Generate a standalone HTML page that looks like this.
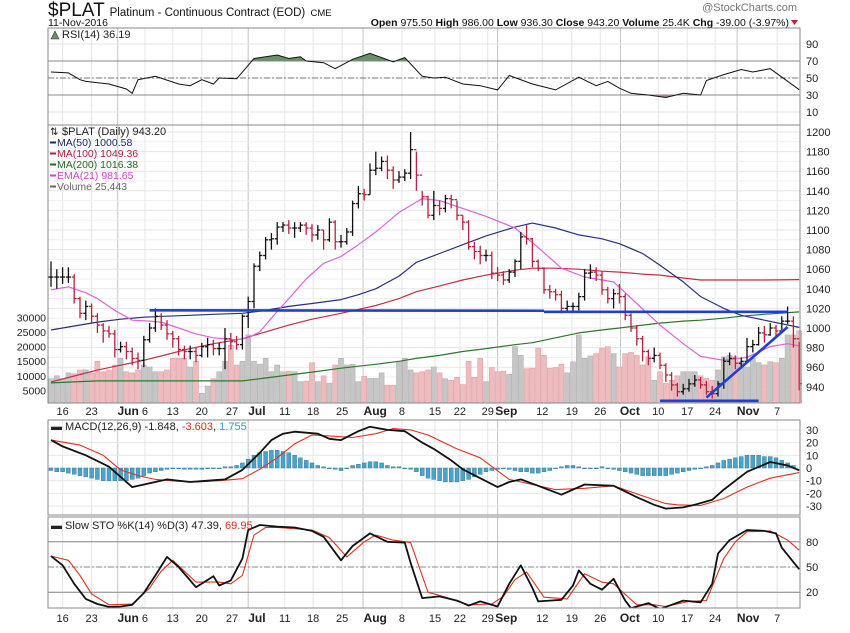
<!DOCTYPE html>
<html><head><meta charset="utf-8"><style>
body{margin:0;background:#fff;}
svg{display:block;font-family:"Liberation Sans",sans-serif;}
</style></head><body>
<svg id="c" width="850" height="633" viewBox="0 0 850 633" xmlns="http://www.w3.org/2000/svg">
<rect x="0" y="0" width="850" height="633" fill="#fff"/>
<text x="48" y="16" font-size="19" fill="#111">$PLAT <tspan font-size="11.5">Platinum - Continuous Contract (EOD)</tspan> <tspan font-size="9.5">CME</tspan></text>
<text x="797" y="11" font-size="11" fill="#777" text-anchor="end">@StockCharts.com</text>
<text x="48" y="26" font-size="10.5" fill="#111">11-Nov-2016</text>
<text x="789" y="26" font-size="10.5" fill="#111" text-anchor="end"><tspan font-weight="bold">Open</tspan> 975.50 <tspan font-weight="bold">High</tspan> 986.00 <tspan font-weight="bold">Low</tspan> 936.30 <tspan font-weight="bold">Close</tspan> 943.20 <tspan font-weight="bold">Volume</tspan> 25.4K <tspan font-weight="bold">Chg</tspan> -39.00 (-3.97%)</text>
<path d="M791,20 L798,20 L794.5,25 Z" fill="#c0203a"/>
<g id="g"></g>
</svg>
<script>
// ---- data ----
const closes=[1052,1052,1052,1052,1030,1015,1022,1012,1003,997,994,978,981,976,969,967,988,1000,1012,1003,994,989,978,976,976,972,981,983,979,979,989,986,983,1012,1027,1063,1074,1090,1091,1103,1105,1102,1102,1105,1102,1095,1100,1090,1108,1088,1088,1098,1127,1137,1136,1161,1163,1170,1161,1151,1154,1158,1182,1156,1134,1115,1125,1122,1132,1131,1115,1108,1083,1078,1074,1074,1056,1054,1049,1057,1068,1093,1091,1068,1061,1039,1037,1034,1020,1022,1022,1032,1056,1057,1054,1039,1030,1035,1032,1013,1000,989,976,969,972,962,952,942,935,938,943,947,942,935,933,943,966,969,964,966,981,983,995,993,1000,997,1007,1007,989,943.2];
const highs=[1068,1060,1062,1062,1055,1032,1028,1025,1015,1005,1002,998,986,986,980,975,992,1005,1020,1015,1008,997,992,982,982,980,985,990,988,985,1000,995,992,1014,1032,1066,1078,1093,1097,1108,1108,1110,1108,1108,1108,1106,1105,1100,1112,1110,1095,1102,1130,1145,1142,1168,1180,1175,1176,1165,1160,1162,1200,1180,1140,1135,1140,1130,1136,1136,1130,1115,1110,1088,1084,1080,1078,1062,1058,1060,1070,1098,1105,1092,1070,1062,1044,1040,1038,1028,1026,1036,1060,1065,1062,1058,1042,1040,1045,1035,1015,1003,992,978,980,975,964,955,944,943,948,952,950,946,941,946,970,975,972,970,990,988,1001,1002,1005,1003,1012,1022,1012,986];
const lows=[1042,1040,1045,1046,1025,1010,1008,1004,995,985,990,970,975,968,962,958,960,985,996,998,988,980,972,968,968,965,970,970,972,972,958,978,978,978,1000,1020,1058,1070,1080,1085,1098,1096,1092,1098,1095,1088,1090,1080,1088,1080,1082,1085,1094,1122,1130,1136,1156,1160,1152,1142,1148,1150,1152,1140,1125,1112,1110,1115,1118,1122,1110,1100,1080,1070,1065,1068,1050,1048,1044,1046,1052,1060,1085,1062,1058,1035,1030,1028,1015,1016,1016,1018,1028,1050,1048,1034,1025,1020,1025,1008,996,982,966,962,965,958,945,936,930,932,935,940,938,932,928,930,938,962,958,960,964,975,982,985,992,990,998,1004,980,936.3];
const volumeK=[9,10,9,11,10.7,12,12,11,15,11.4,12,13.7,16,11.4,11,12,13.7,13,11.4,11.4,12,16,16,16,13,15,4,6.5,9,11.4,15,20.5,13.7,15,24,15,14,16,11.4,13.7,11.4,11.6,11.4,8,8.2,14.5,8,10,7.5,13.7,16,13.7,14,8,9.8,9.1,9.1,11,6.8,6.8,15,16,12,11,11.4,12,13,11,9,8.5,9.5,7,15,9.5,16,8,12.8,11.4,11.6,10.5,20,17,12.4,12.6,19.5,17,12.6,12.8,14,11,14.8,24,16,16.8,17.6,19.5,20,17.6,13,17.6,18,17,13.7,16.5,8.5,11.4,7.4,8.5,10,11.4,11.4,11.4,10,9.1,8.5,12,16.5,17,16.5,14.8,13,16,14.5,13.7,14.8,14.5,16,24,24,25.4];
const maIdx=[0,4,8,12,16,20,24,28,33,37,41,45,50,53,56,60,63,67,71,75,80,83,87,91,95,98,102,105,109,112,116,119,123,129];
const ma50=[998,1002,1006,1009,1011,1012,1013,1014,1015,1018,1022,1025,1029,1034,1040,1053,1067,1076,1085,1094,1103,1107,1102,1095,1091,1086,1076,1064,1047,1032,1020,1013,1008,1000.6];
const ma100=[945,951,957,962,967,973,979,984,989,996,1003,1009,1015,1019,1023,1030,1037,1043,1049,1054,1059,1061,1061,1060,1058,1057,1055,1054,1051,1049,1049,1049,1049,1049.4];
const ma200=[944,945,946,946,946,946,946,946,946,949,952,955,959,961,963,966,969,972,976,979,983,985,990,995,998,1000,1003,1005,1007,1008,1010,1012,1014,1016.4];
const emaIdx=[0,3,6,8,11,14,17,19,22,25,28,32,34,36,38,41,44,47,50,53,56,60,64,67,71,75,80,84,88,92,97,101,105,109,112,116,120,124,127,129];
const ema21=[1039,1042,1036,1030,1018,1008,1007,1006,1000,994,990,988,990,996,1010,1030,1050,1066,1073,1085,1098,1118,1132,1130,1122,1114,1102,1082,1061,1052,1047,1025,1003,984,971,967,970,981,984,981.7];
const rsiIdx=[0,3,5,6,10,13,14,15,18,22,24,26,28,29,32,34,35,39,41,43,44,47,49,52,55,57,59,61,64,66,68,71,74,77,79,83,87,91,94,96,98,100,103,106,109,112,113,116,119,121,124,129];
const rsiVal=[57,56,48,46,43,37,32,48,52,43,41,48,43,50,49,65,73,77,73,75,70,68,61,72,79,74,69,74,52,50,51,43,41,36,53,43,36,51,41,46,38,32,30,27,32,30,47,54,60,57,61,36.2];
const macdIdx=[0,2,6,10,14,17,20,24,27,30,33,36,38,40,42,46,48,50,53,55,58,61,64,66,69,71,74,77,79,81,84,88,92,97,101,104,106,109,111,114,116,120,124,127,129];
const macdVal=[22,17,10,1,-15,-12,-9,-11,-10,-9,-1.5,12,22,27,28.6,27,23,22,29,32.5,30,29,20,15,6,-1,-8,-15,-11,-9,-14,-21,-13,-14,-23,-29,-32,-31,-29,-25,-17,-3,4.7,2,-1.8];
const sigIdx=[0,5,9,12,15,18,22,25,29,33,36,39,42,45,49,52,56,59,62,65,70,74,79,83,87,92,97,102,106,108,112,116,120,124,129];
const sigVal=[22,18,10,-1.5,-6,-9,-10.5,-11,-10,-8.4,-1,8,19,26,25,24,27,31,30,26,15,8,-9,-13,-17,-16,-14,-22,-28,-29,-29.5,-24,-15,-8,-3.6];
const histVal=[-2,-3,-3,-4,-5,-6,-7,-8,-9,-10,-10,-10,-10,-10,-9,-8,-6,-4,-3,-2,-1,0,0,-1,-1,-1,-1,0,0,0,1,1,2,4,7,10,12,13,14,14,13,12,10,8,6,4,2,1,0,-1,-2,0,2,3,4,5,5,4,2,1,1,0,-1,-3,-6,-8,-9,-10,-11,-11,-11,-10,-9,-7,-5,-3,-2,-1,0,-1,-2,-3,-3,-4,-4,-3,-2,0,1,2,2,1,0,0,0,1,0,-1,-2,-3,-4,-5,-6,-6,-6,-6,-6,-5,-4,-3,-2,-1,0,1,2,4,6,7,8,9,10,10,10,9,9,8,6,4,2];
const stoKIdx=[0,2,4,6,8,10,12,14,16,18,20,22,25,28,29,31,33,34,36,39,42,45,47,50,52,55,58,61,62,64,67,70,72,74,77,79,81,83,84,86,88,90,91,93,95,97,99,100,103,105,107,109,112,114,115,117,120,123,125,126,129];
const stoK=[63,52,30,12,6,2.5,3,5,19,40,62,50,26,39,28,34,60,94,100,98,97,93,86,58,75,90,80,79,55,13,15,10,4,9,3,30,52,25,9,10,11,28,46,30,23,36,10,1,7,0,5,10,8,30,66,82,94,93,90,73,47.4];
const stoDIdx=[0,3,5,7,10,14,17,19,21,25,29,31,33,35,37,39,45,48,51,54,56,59,62,65,68,72,76,78,80,82,85,89,92,95,97,101,104,106,110,113,116,118,120,124,127,129];
const stoD=[63,58,40,18,5,6,25,45,58,32,32,30,40,88,97,97,94,85,62,80,88,82,79,20,14,5,6,15,35,44,14,12,42,32,30,5,5,3,9,10,60,80,92,93,82,70];
// annotation trendlines (bar index, price)
const trendStartIdx=[17,85,105,113];
const trendEndIdx=[85,127,122,127];
const trendStartPx=[1018,1016.5,925.7,929];
const trendEndPx=[1017.6,1016.5,925.7,1001];
const dateLabels=['16','23','Jun','6','13','20','27','Jul','11','18','25','Aug','8','15','22','29','Sep','12','19','26','Oct','10','17','24','Nov','7'];
const dateIdx=[2,7,13.3,16.2,21,26,31.2,35.5,40.3,45.2,50.2,55.9,60.5,66.2,70.5,75.3,78.5,84.7,89.8,94.7,99.8,104.7,109.7,114.5,120.2,125.2];
const monthFlag=[0,0,1,0,0,0,0,1,0,0,0,1,0,0,0,0,1,0,0,0,1,0,0,0,1,0];
const gridIdx=[2,7,11.5,16.2,21,26,31.2,34,40.3,45.2,50.2,53.8,60.5,66.2,70.5,75.3,77,84.7,89.8,94.7,98.2,104.7,109.7,114.5,118.3,125.2];
const gridMonth=[0,0,1,0,0,0,0,1,0,0,0,1,0,0,0,0,1,0,0,0,1,0,0,0,1,0];
const priceTicks=[1200,1180,1160,1140,1120,1100,1080,1060,1040,1020,1000,980,960,940];
const volTicks=[30000,25000,20000,15000,10000,5000];
const rsiTicks=[90,70,50,30,10];
const macdTicks=[30,20,10,0,-10,-20,-30];
const stoTicks=[80,50,20];

// ---- scales ----
const L=48,R=800;
const X=i=>51+i*5.8;
const yR=v=>61+(70-v)*0.85;
const yP=p=>132+(1200-p)*0.98;
const yV=k=>405-k*2.92;
const yM=v=>468-v*1.27;
const yS=v=>567+(50-v)*0.84;
const NS='http://www.w3.org/2000/svg';
const G=document.getElementById('g');
function mk(tag,attrs,parent){const e=document.createElementNS(NS,tag);for(const k in attrs)e.setAttribute(k,attrs[k]);(parent||G).appendChild(e);return e;}
function txt(s,x,y,attrs){const t=mk('text',Object.assign({x:x,y:y,'font-size':11,fill:'#222'},attrs||{}));t.textContent=s;return t;}
function pts(idx,vals,ys){return idx.map((i,k)=>X(i).toFixed(1)+','+ys(vals[k]).toFixed(1)).join(' ');}

const panels=[[28,125],[125,403],[420,515],[517,608]];
const panelNames=['rsi-panel','price-panel','macd-panel','sto-panel'];
panels.forEach((p,k)=>{
  const r=mk('rect',{x:L,y:p[0],width:R-L,height:p[1]-p[0],fill:'#fff',stroke:'none'});
  
  
  gridIdx.forEach((gi,j)=>{
    const ln=mk('line',{x1:X(gi),x2:X(gi),y1:p[0],y2:p[1],stroke:gridMonth[j]?'#c4c4c4':'#e6e6e6','stroke-width':1});
    
    
  });
});
function hgrid(vals,ys,y0,y1,lblX){vals.forEach(v=>{const y=ys(v);if(y<y0||y>y1)return;
  const ln=mk('line',{x1:L,x2:R,y1:y,y2:y,stroke:'#e6e6e6'});
  
  
  const t=txt(String(v),lblX,y+4,{'font-size':11,fill:'#222'});
  
  
});}
hgrid(rsiTicks,yR,28,125,806);
hgrid(priceTicks,yP,125,403,806);
hgrid(macdTicks,yM,420,515,806);
hgrid(stoTicks,yS,517,608,806);
for(let p=950;p<1200;p+=20){const ln=mk('line',{x1:L,x2:R,y1:yP(p),y2:yP(p),stroke:'#efefef'});
  
  }
volTicks.forEach(v=>{const t=txt(String(v),46,yV(v/1000)+4,{'font-size':10.5,'text-anchor':'end'});
  
  });

// RSI
[[70,'none'],[30,'none'],[50,'6,2,2,2']].forEach(a=>{const ln=mk('line',{x1:L,x2:R,y1:yR(a[0]),y2:yR(a[0]),stroke:a[0]==50?'#777':'#888','stroke-dasharray':a[1]});
  
  });
const defs=mk('defs',{});
mk('rect',{x:L,y:28,width:R-L,height:yR(70)-28},mk('clipPath',{id:'ab70'},defs));
mk('rect',{x:L,y:yR(30),width:R-L,height:125-yR(30)},mk('clipPath',{id:'bl30'},defs));
const rp=pts(rsiIdx,rsiVal,yR);
const f1=mk('polygon',{points:X(0)+','+yR(70)+' '+rp+' '+X(129)+','+yR(70),fill:'#6d8f6d','clip-path':'url(#ab70)'});


const f2=mk('polygon',{points:X(0)+','+yR(30)+' '+rp+' '+X(129)+','+yR(30),fill:'#a88585','clip-path':'url(#bl30)'});


const rl=mk('polyline',{points:rp,fill:'none',stroke:'#111','stroke-width':1});


const rt=txt('RSI(14) 36.19',62,38,{'font-size':11});


const ri=mk('path',{d:'M51,39 L55,31 L59,39 Z',fill:'#6d8f6d',stroke:'#333','stroke-width':0.6});



// volume bars
volumeK.forEach((v,i)=>{const down=i>0&&closes[i]<closes[i-1];
  const y=Math.max(yV(v),125);
  const b=mk('rect',{x:X(i)-2.5,y:y,width:5,height:403-y,fill:down?'#eebcbf':'#c6c6c6',stroke:down?'#d99a9e':'#aaa','stroke-width':0.5});
  
  });
// moving averages
[[ma200,maIdx,'#2a7a2a','ma200-line'],[ma100,maIdx,'#c03048','ma100-line'],[ma50,maIdx,'#2a2f7a','ma50-line'],[ema21,emaIdx,'#e060e0','ema21-line']].forEach(m=>{
  const l=mk('polyline',{points:pts(m[1],m[0],yP),fill:'none',stroke:m[2],'stroke-width':1.2,'stroke-linejoin':'round'});
  
  });
// price bars
closes.forEach((c,i)=>{const o=i>0?closes[i-1]:c;const col=(i>0&&c<closes[i-1])?'#b8203c':'#111';
  const g=mk('g',{stroke:col,'stroke-width':1.3});
  
  
  const x=X(i);
  mk('line',{x1:x,x2:x,y1:yP(highs[i]),y2:yP(lows[i])},g);
  mk('line',{x1:x-2.5,x2:x,y1:yP(o),y2:yP(o)},g);
  mk('line',{x1:x,x2:x+2.5,y1:yP(c),y2:yP(c)},g);});
// trendlines
trendStartIdx.forEach((s,k)=>{const l=mk('line',{x1:X(s),y1:yP(trendStartPx[k]),x2:X(trendEndIdx[k]),y2:yP(trendEndPx[k]),stroke:'#1f3fd6','stroke-width':2.6});
  
  });
// price legend
const pl=txt('$PLAT (Daily) 943.20',62,135,{'font-size':11});


const pIcon=txt('⇅',50,135,{'font-size':10});


[['MA(50) 1000.58','#1c2a6a'],['MA(100) 1049.36','#b02040'],['MA(200) 1016.38','#1f6a1f'],['EMA(21) 981.65','#d040d0'],['Volume 25,443','#666']].forEach((a,k)=>{
  const y=146+k*11;
  const sw=mk('rect',{x:50,y:y-4.5,width:6,height:2,fill:a[1]});
  
  
  const t=txt(a[0],57,y,{'font-size':10.5,fill:a[1]});
  
  });

// MACD
const hw=4;
histVal.forEach((h,i)=>{const y0=yM(0),y1=yM(h);
  const b=mk('rect',{x:X(i)-hw/2,y:Math.min(y0,y1),width:hw,height:Math.max(Math.abs(y1-y0),0.8),fill:'#4aa3c9',stroke:'#2d6f8f','stroke-width':0.4});
  
  });
const sl=mk('polyline',{points:pts(sigIdx,sigVal,yM),fill:'none',stroke:'#e0301e','stroke-width':1.1,'stroke-linejoin':'round'});


const ml=mk('polyline',{points:pts(macdIdx,macdVal,yM),fill:'none',stroke:'#111','stroke-width':1.8,'stroke-linejoin':'round'});


const mt=mk('text',{x:51,y:430,'font-size':11,fill:'#222'});


mt.innerHTML='<tspan font-weight="bold">▬</tspan> MACD(12,26,9) -1.848, <tspan fill="#d0301e">-3.603</tspan>, <tspan fill="#3a9ac4">1.755</tspan>';

// STO
[[80,'none'],[20,'none'],[50,'6,2,2,2']].forEach(a=>{const ln=mk('line',{x1:L,x2:R,y1:yS(a[0]),y2:yS(a[0]),stroke:'#888','stroke-dasharray':a[1]});
  
  });
mk('rect',{x:L,y:517,width:R-L,height:91},mk('clipPath',{id:'stoclip'},defs));
const dl=mk('polyline',{points:pts(stoDIdx,stoD,yS),fill:'none',stroke:'#e0301e','stroke-width':1.1,'clip-path':'url(#stoclip)','stroke-linejoin':'round'});


const kl=mk('polyline',{points:pts(stoKIdx,stoK,yS),fill:'none',stroke:'#111','stroke-width':1.8,'clip-path':'url(#stoclip)','stroke-linejoin':'round'});


const stt=mk('text',{x:51,y:529,'font-size':11,fill:'#222'});


stt.innerHTML='<tspan font-weight="bold">▬</tspan> Slow STO %K(14) %D(3) 47.39, <tspan fill="#d0301e">69.95</tspan>';

// panel borders
panels.forEach(p=>{const b=mk('rect',{x:L,y:p[0],width:R-L,height:p[1]-p[0],fill:'none',stroke:'#888','stroke-width':1});
  
  });
// date axes
[415,622].forEach(yy=>{dateLabels.forEach((s,k)=>{
  const t=txt(s,X(dateIdx[k]),yy,{'font-size':monthFlag[k]?12:11,'font-weight':monthFlag[k]?'bold':'normal','text-anchor':'middle'});
  
  });});
</script>
</body></html>
